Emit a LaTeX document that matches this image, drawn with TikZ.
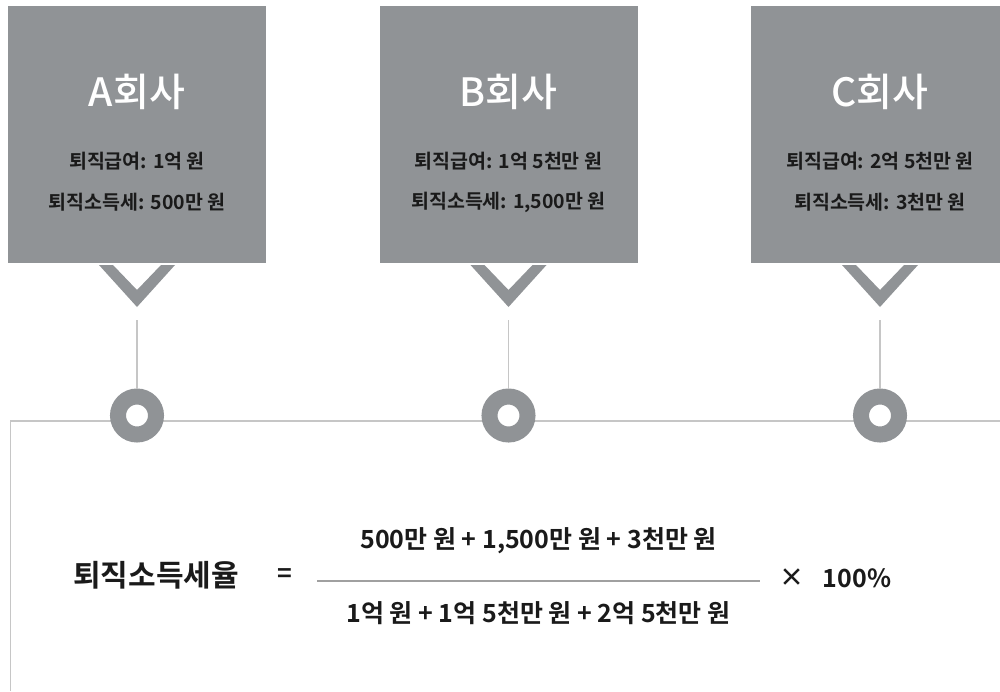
\documentclass[tikz,border=0pt]{standalone}
\usepackage{fontspec}
\newfontfamily\krm{Noto Sans CJK KR Medium}
\newfontfamily\krb{Noto Sans CJK KR Bold}
\definecolor{boxgray}{HTML}{909396}
\definecolor{linegray}{HTML}{C6C6C6}
\definecolor{fracgray}{HTML}{A0A0A0}
\definecolor{ink}{HTML}{1A1A1A}
\tikzset{
  compbox/.style={fill=boxgray, minimum width=258pt, minimum height=257pt, inner sep=0pt, draw=none},
  title/.style={text=white, font=\krm\fontsize{39}{44}\selectfont},
  info/.style={text=ink, font=\krb\fontsize{19.5}{23}\selectfont},
  ring/.style={circle, draw=boxgray, line width=16pt, fill=white, minimum size=38pt, inner sep=0pt},
  thin/.style={draw=linegray, line width=1.5pt},
  chev/.style={fill=boxgray, draw=none},
  formula/.style={text=ink, font=\krb\fontsize{25}{30}\selectfont},
}
\newcommand{\company}[5]{%
  \node[compbox] (box#1) at (#2,134.5) {};
  \node[title] (t#1) at (#2,92) {#3};
  \node[info] (la#1) at (#2,161) {#4};
  \node[info] (lb#1) at (#2,202) {#5};
  \fill[chev] (#2-38,265) -- (#2-24,265) -- (#2,290) -- (#2+24,265) -- (#2+38,265) -- (#2,307) -- cycle;
  \coordinate (cv#1) at (#2,320);
  \node[ring] (ring#1) at (#2,415.5) {};
  \draw[thin] (cv#1) -- (ring#1.north);
}
\begin{document}
\begin{tikzpicture}[x=1pt,y=-1pt]
\useasboundingbox (0,0) rectangle (1000,691);
\clip (0,0) rectangle (1000,691);
% frame line
\coordinate (fb) at (10.7,691);
\coordinate (ft) at (10.7,421);
\coordinate (fr) at (1000,421);
\draw[thin] (fb) -- (ft) -- (fr);
% boxes
\company{A}{137}{A회사}{퇴직급여: 1억 원}{퇴직소득세: 500만 원}
\company{B}{508.5}{B회사}{퇴직급여: 1억 5천만 원}{퇴직소득세: 1,500만 원}
\company{C}{880}{C회사}{퇴직급여: 2억 5천만 원}{퇴직소득세: 3천만 원}
% formula
\node[text=ink, font=\krb\fontsize{30}{34}\selectfont] (lhs) at (156,575) {퇴직소득세율};
\node[formula] (eq) at (285,576) {=};
\coordinate (fl) at (317,581);
\coordinate (fr2) at (760,581);
\draw[draw=fracgray, line width=1.5pt] (fl) -- (fr2);
\node[formula] (num) at (538.5,541) {500만 원 + 1,500만 원 + 3천만 원};
\node[formula] (den) at (538.5,613) {1억 원 + 1억 5천만 원 + 2억 5천만 원};
\node[formula] (times) at (792,578) {×};
\node[formula] (pct) at (857,578) {100\%};
\end{tikzpicture}
\end{document}
